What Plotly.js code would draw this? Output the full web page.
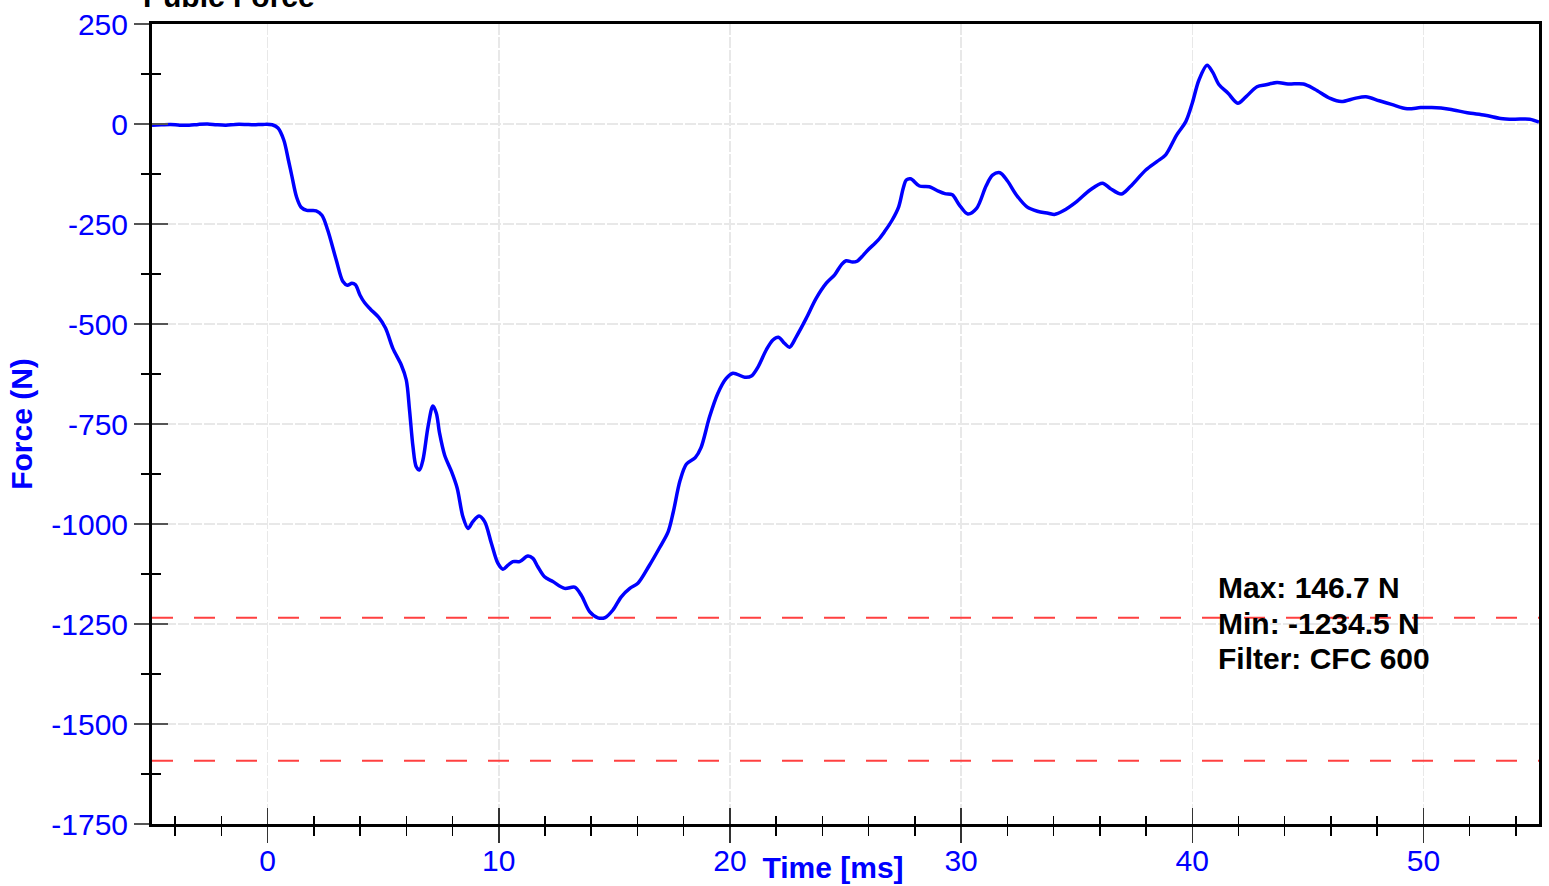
<!DOCTYPE html>
<html>
<head>
<meta charset="utf-8">
<script src="https://cdn.plot.ly/plotly-3.0.1.min.js"></script>
<style>
  html, body { margin: 0; padding: 0; background: #ffffff; }
  #chart { width: 1549px; height: 886px; }
</style>
</head>
<body>
<div id="chart"></div>
<script>
// ---- data ----
const timeMs = [
  -5.0, -4.6, -4.2, -3.8, -3.4, -3.0, -2.6, -2.2, -1.8, -1.4, -1.0, -0.6, -0.2, 0.2,
  0.45, 0.7, 0.9, 1.05, 1.25, 1.45, 1.7, 2.1, 2.35, 2.6, 2.97, 3.26, 3.45, 3.65, 3.8,
  4.0, 4.2, 4.45, 4.8, 5.1, 5.42, 5.78, 6.0, 6.14, 6.29, 6.43, 6.57, 6.72, 6.94, 7.15,
  7.3, 7.44, 7.66, 7.95, 8.2, 8.45, 8.67, 8.88, 9.15, 9.39, 9.68, 9.96, 10.18, 10.4,
  10.61, 10.9, 11.26, 11.48, 11.69, 11.98, 12.34, 12.85, 13.28, 13.57, 13.93, 14.29,
  14.6, 14.94, 15.3, 15.67, 16.02, 16.5, 16.95, 17.33, 17.55, 17.84, 18.12, 18.5, 18.75,
  19.12, 19.48, 19.84, 20.13, 20.64, 20.93, 21.22, 21.57, 21.86, 22.1, 22.36, 22.58,
  22.87, 23.3, 23.73, 24.17, 24.53, 24.82, 25.03, 25.3, 25.5, 25.95, 26.4, 26.69, 27.02,
  27.3, 27.5, 27.63, 27.82, 28.2, 28.63, 28.99, 29.3, 29.62, 29.92, 30.29, 30.67, 31.08,
  31.36, 31.68, 32.0, 32.4, 32.85, 33.3, 33.77, 34.04, 34.42, 35.0, 35.58, 36.12, 36.45,
  36.93, 37.31, 37.99, 38.47, 38.85, 39.33, 39.72, 40.0, 40.29, 40.64, 40.87, 41.16,
  41.55, 41.97, 42.32, 42.8, 43.19, 43.67, 44.14, 44.81, 45.3, 45.97, 46.45, 47.03,
  47.51, 48.09, 48.62, 49.3, 49.88, 50.36, 51.13, 51.9, 52.67, 53.34, 53.92, 54.6, 55.0
];
const forceN = [
  -3, -2, -1, -3, -3, -1, 0, -2, -3, -1, -1, -2, -1, -2,
  -10, -40, -90, -130, -182, -208, -216, -217, -228, -265, -340, -394, -403, -398, -402,
  -428, -447, -463, -483, -510, -561, -602, -640, -715, -807, -857, -865, -840, -757, -705,
  -723, -773, -828, -868, -910, -982, -1011, -994, -980, -994, -1048, -1098, -1113, -1103,
  -1094, -1094, -1080, -1086, -1107, -1132, -1144, -1161, -1158, -1178, -1219, -1234.5,
  -1234, -1215, -1182, -1161, -1148, -1105, -1060, -1019, -970, -892, -850, -834, -809,
  -732, -673, -636, -623, -633, -630, -607, -565, -540, -533, -548, -558,
  -532, -486, -436, -398, -377, -352, -342, -345, -343, -316, -291, -269, -240,
  -207, -160, -140, -137, -155, -157, -167, -174, -177, -202, -225, -211, -155,
  -128, -122, -142, -178, -207, -218, -223, -226, -217, -194, -165, -148, -161,
  -175, -157, -115, -94, -77, -27, 6, 52, 110, 146.7, 131, 98,
  77, 52, 68, 93, 98, 104, 100, 100, 87, 64, 56, 64,
  68, 58, 49, 38, 41, 41, 37, 28, 22, 14, 12, 12, 5
];
const xRange = [-5, 55];
const yRange = [-1750, 250];
const xTicks = [0, 10, 20, 30, 40, 50];
const yTicks = [250, 0, -250, -500, -750, -1000, -1250, -1500, -1750];
const limitLines = [-1234.5, -1592];
const statLabels = ["Max: 146.7 N", "Min: -1234.5 N", "Filter: CFC 600"];

const FONT = "Liberation Sans, Arial, Helvetica, sans-serif";
const BLUE = "#0000ff";

const traces = [
  {
    x: timeMs, y: forceN, type: "scatter", mode: "lines",
    line: { color: BLUE, width: 3.5, shape: "spline", smoothing: 0.9 },
    xaxis: "x", yaxis: "y", hoverinfo: "x+y", showlegend: false
  }
];
limitLines.forEach(v => {
  traces.push({
    x: xRange, y: [v, v], type: "scatter", mode: "lines",
    line: { color: "#ff4040", width: 2, dash: "21px,21px" },
    xaxis: "x2", yaxis: "y2", hoverinfo: "skip", showlegend: false
  });
});

const annotations = statLabels.map((txt, i) => ({
  text: "<b>" + txt + "</b>",
  xref: "paper", yref: "paper",
  x: 0.7672, xanchor: "left",
  y: 0.2955 - i * 0.0444, yanchor: "middle",
  showarrow: false,
  font: { family: FONT, size: 30, color: "#000000" }
}));

const layout = {
  width: 1549, height: 886,
  margin: { l: 152, r: 10, t: 24, b: 62, pad: 0 },
  paper_bgcolor: "#ffffff", plot_bgcolor: "#ffffff",
  showlegend: false,
  title: {
    text: "<b>Pubic Force</b>",
    font: { family: FONT, size: 30, color: "#000000" },
    xref: "container", x: 143 / 1549, xanchor: "left",
    yref: "paper", y: 1, yanchor: "bottom",
    pad: { b: 17, t: 0, l: 0, r: 0 }
  },
  xaxis: {
    range: xRange, tickmode: "array", tickvals: xTicks, ticktext: xTicks.map(String),
    ticks: "outside", ticklen: 16, tickwidth: 1.5, tickcolor: "#333333",
    minor: { tickmode: "linear", tick0: 0, dtick: 2, ticks: "outside", ticklen: 9, tickwidth: 1.5, tickcolor: "#000000", showgrid: false },
    showline: true, linecolor: "#000000", linewidth: 3, mirror: true,
    showgrid: true, gridcolor: "#e8e8e8", gridwidth: 1.5, griddash: "11px,2px",
    zeroline: false,
    tickfont: { family: FONT, size: 30, color: BLUE },
    ticklabelstandoff: -8,
    automargin: false
  },
  xaxis2: {
    overlaying: "x", matches: "x", anchor: "y", side: "bottom",
    tickmode: "array", tickvals: xTicks,
    ticks: "inside", ticklen: 16, tickwidth: 1.5, tickcolor: "#333333",
    minor: { tickmode: "linear", tick0: 0, dtick: 2, ticks: "inside", ticklen: 8, tickwidth: 1.5, tickcolor: "#000000", showgrid: false },
    showline: false, showgrid: false, zeroline: false, showticklabels: false,
    title: { text: "<b>Time [ms]\u00a0\u00a0\u00a0</b>", font: { family: FONT, size: 30, color: BLUE }, standoff: 32 },
    automargin: false
  },
  yaxis: {
    range: yRange, tickmode: "array", tickvals: yTicks, ticktext: yTicks.map(String),
    ticks: "outside", ticklen: 15, tickwidth: 1.5, tickcolor: "#555555",
    minor: { tickmode: "linear", tick0: 0, dtick: 125, ticks: "outside", ticklen: 8, tickwidth: 1.5, tickcolor: "#000000", showgrid: false },
    showline: true, linecolor: "#000000", linewidth: 3, mirror: true,
    showgrid: true, gridcolor: "#e8e8e8", gridwidth: 1.5, griddash: "11px,2px",
    zeroline: false,
    tickfont: { family: FONT, size: 30, color: BLUE },
    ticklabelstandoff: 0,
    title: { text: "<b>Force (N)</b>", font: { family: FONT, size: 30, color: BLUE }, standoff: 10 },
    automargin: false
  },
  yaxis2: {
    overlaying: "y", matches: "y", anchor: "x", side: "left",
    tickmode: "array", tickvals: yTicks,
    ticks: "inside", ticklen: 16, tickwidth: 1.5, tickcolor: "#555555",
    minor: { tickmode: "linear", tick0: 0, dtick: 125, ticks: "inside", ticklen: 9, tickwidth: 1.5, tickcolor: "#000000", showgrid: false },
    showline: false, showgrid: false, zeroline: false, showticklabels: false,
    automargin: false
  },
  annotations: annotations
};

Plotly.newPlot("chart", traces, layout, { displayModeBar: false, staticPlot: true });
</script>
</body>
</html>
